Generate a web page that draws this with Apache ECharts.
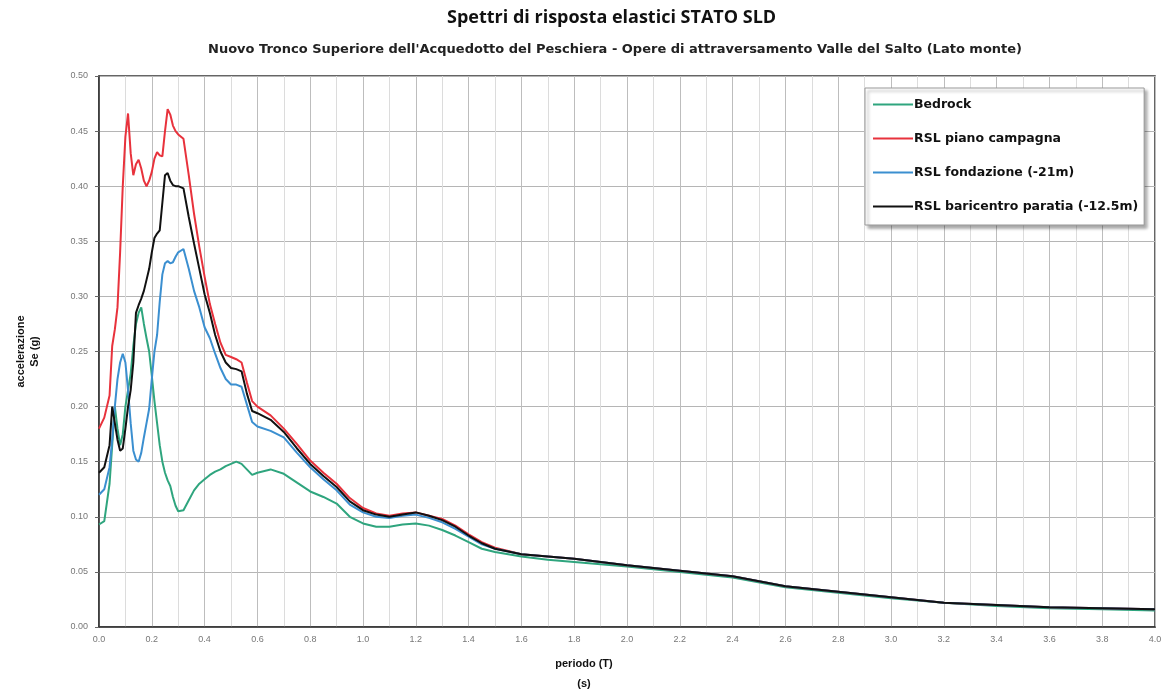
<!DOCTYPE html>
<html><head><meta charset="utf-8">
<script src="https://cdn.jsdelivr.net/npm/echarts@6/dist/echarts.min.js"></script>
<style>html,body{margin:0;padding:0;background:#fff}#c{width:1173px;height:693px}</style>
</head><body><div id="c"></div>
<script>
const periods = [0,0.02,0.04,0.05,0.06,0.07,0.08,0.09,0.10,0.11,0.12,0.13,0.14,0.15,0.16,0.17,0.18,0.19,0.20,0.21,0.22,0.23,0.24,0.25,0.26,0.27,0.28,0.29,0.30,0.32,0.34,0.36,0.38,0.40,0.42,0.44,0.46,0.48,0.50,0.52,0.54,0.56,0.58,0.60,0.65,0.70,0.75,0.80,0.85,0.90,0.95,1.00,1.05,1.10,1.15,1.20,1.25,1.30,1.35,1.40,1.45,1.50,1.60,1.70,1.80,1.90,2.00,2.20,2.40,2.60,2.80,3.00,3.20,3.40,3.60,3.80,4.00];

const bedrock = [0.093,0.096,0.130,0.165,0.200,0.180,0.165,0.175,0.200,0.215,0.230,0.255,0.275,0.285,0.290,0.275,0.262,0.250,0.228,0.205,0.185,0.165,0.150,0.140,0.133,0.128,0.118,0.110,0.105,0.106,0.115,0.124,0.130,0.134,0.138,0.141,0.143,0.146,0.148,0.150,0.148,0.143,0.138,0.140,0.143,0.139,0.131,0.123,0.118,0.112,0.100,0.094,0.091,0.091,0.093,0.094,0.092,0.088,0.083,0.077,0.071,0.068,0.064,0.061,0.059,0.057,0.055,0.050,0.045,0.036,0.031,0.026,0.022,0.019,0.017,0.016,0.015];

const pianoCampagna = [0.180,0.190,0.210,0.255,0.270,0.290,0.340,0.400,0.445,0.466,0.430,0.410,0.420,0.424,0.416,0.405,0.400,0.405,0.413,0.425,0.431,0.428,0.427,0.450,0.470,0.465,0.455,0.450,0.447,0.443,0.410,0.375,0.345,0.318,0.293,0.275,0.258,0.247,0.245,0.243,0.240,0.222,0.205,0.200,0.192,0.180,0.166,0.151,0.140,0.130,0.117,0.108,0.103,0.101,0.103,0.104,0.101,0.098,0.092,0.084,0.077,0.072,0.066,0.064,0.062,0.059,0.056,0.051,0.046,0.037,0.032,0.027,0.022,0.020,0.018,0.017,0.016];

const fondazione = [0.120,0.125,0.145,0.170,0.200,0.225,0.240,0.248,0.240,0.215,0.185,0.160,0.152,0.150,0.158,0.172,0.185,0.198,0.225,0.250,0.265,0.295,0.320,0.330,0.332,0.330,0.331,0.336,0.340,0.343,0.325,0.305,0.290,0.272,0.262,0.248,0.235,0.225,0.220,0.220,0.218,0.202,0.186,0.182,0.178,0.172,0.158,0.145,0.134,0.124,0.111,0.104,0.100,0.099,0.101,0.102,0.099,0.095,0.089,0.082,0.075,0.071,0.066,0.064,0.062,0.059,0.056,0.051,0.046,0.037,0.032,0.027,0.022,0.020,0.018,0.017,0.016];

const baricentro = [0.140,0.145,0.165,0.200,0.185,0.170,0.160,0.162,0.180,0.200,0.215,0.240,0.285,0.292,0.298,0.305,0.315,0.325,0.340,0.353,0.357,0.360,0.385,0.410,0.412,0.405,0.401,0.400,0.400,0.398,0.372,0.348,0.325,0.302,0.285,0.265,0.250,0.240,0.235,0.234,0.232,0.212,0.196,0.194,0.188,0.177,0.162,0.148,0.137,0.127,0.114,0.106,0.102,0.100,0.102,0.104,0.101,0.097,0.091,0.083,0.076,0.071,0.066,0.064,0.062,0.059,0.056,0.051,0.046,0.037,0.032,0.027,0.022,0.020,0.018,0.017,0.016];

const seriesNames = ['Bedrock','RSL piano campagna','RSL fondazione (-21m)','RSL baricentro paratia (-12.5m)'];
const seriesColors = ['#2fa57e','#e8323c','#3b8fd0','#111111'];
const seriesValues = [bedrock, pianoCampagna, fondazione, baricentro];

const chart = echarts.init(document.getElementById('c'), null, {renderer:'canvas'});
const fontFam = 'Liberation Sans, Arial, sans-serif';
chart.setOption({
  backgroundColor:'#fff',
  animation:false,
  title:[
    {text:'Spettri di risposta elastici STATO SLD', left:442, top:4,
     textStyle:{fontFamily:'Open Sans', fontWeight:'bold', fontSize:18, color:'#111'}},
    {text:"Nuovo Tronco Superiore dell'Acquedotto del Peschiera - Opere di attraversamento Valle del Salto (Lato monte)", left:203, top:38,
     textStyle:{fontFamily:'DejaVu Sans', fontWeight:'bold', fontSize:13, color:'#222'}}
  ],
  grid:{left:99, right:18, top:76, bottom:66, containLabel:false, outerBoundsMode:'none',
        show:true, borderColor:'#333', borderWidth:1.5, backgroundColor:'#fff'},
  legend:{
    orient:'vertical', left:865, top:88,
    data:seriesNames.map(n=>({name:n, icon:'rect'})),
    itemWidth:40, itemHeight:2, itemGap:19,
    padding:[9,6,11,8],
    backgroundColor:'#fff', borderColor:'#999', borderWidth:1,
    shadowColor:'rgba(0,0,0,0.35)', shadowBlur:3, shadowOffsetX:3, shadowOffsetY:3,
    textStyle:{fontFamily:'DejaVu Sans', fontWeight:'bold', fontSize:12.5, color:'#111', padding:[0,0,0,-4], lineHeight:15}
  },
  xAxis:{
    type:'value', min:0, max:4, interval:0.2,
    name:'periodo (T)\n(s)', nameLocation:'middle', nameGap:27,
    nameTextStyle:{fontFamily:fontFam, fontWeight:'bold', fontSize:11, color:'#111', lineHeight:20, padding:[0,86,0,0]},
    axisLine:{show:true, onZero:false, lineStyle:{color:'#333', width:1.5}},
    axisTick:{show:false},
    axisLabel:{fontFamily:fontFam, fontSize:9, color:'#777', margin:8, formatter:v=>v.toFixed(1)},
    splitLine:{show:true, lineStyle:{color:'#bdbdbd', width:1}},
    minorTick:{show:false, splitNumber:2},
    minorSplitLine:{show:true, lineStyle:{color:'#dcdcdc', width:1}}
  },
  yAxis:{
    type:'value', min:0, max:0.5, interval:0.05,
    name:'accelerazione\nSe (g)', nameLocation:'middle', nameGap:57, nameRotate:90,
    nameTextStyle:{fontFamily:fontFam, fontWeight:'bold', fontSize:11, color:'#111', lineHeight:14},
    axisLine:{show:true, lineStyle:{color:'#333', width:1.5}},
    axisTick:{show:true, length:4, lineStyle:{color:'#666'}},
    axisLabel:{fontFamily:fontFam, fontSize:9, color:'#777', margin:11, formatter:v=>v.toFixed(2)},
    splitLine:{show:true, lineStyle:{color:'#b5b5b5', width:1}}
  },
  series: seriesNames.map((n,i)=>({
    name:n, type:'line', symbol:'none', smooth:false,
    data: periods.map((t,k)=>[t, seriesValues[i][k]]),
    lineStyle:{color:seriesColors[i], width:2}, itemStyle:{color:seriesColors[i]},
    z: i===3 ? 5 : 3
  }))
});
</script></body></html>
